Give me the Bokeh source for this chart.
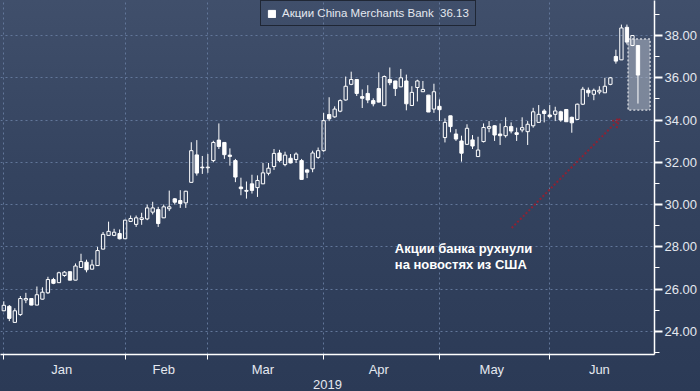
import numpy as np
from bokeh.plotting import figure
from bokeh.models import (Range1d, FixedTicker, NumeralTickFormatter, Label, Arrow,
                          OpenHead, ColumnDataSource, Legend, LegendItem)
from bokeh.core.properties import value
from bokeh.embed import file_html
from bokeh.resources import INLINE

# ---------------- data ----------------
opens = [24.97, 25.18, 24.42, 24.79, 25.48, 25.55, 25.24, 25.52, 25.82, 26.45,
         26.30, 26.64, 26.82, 26.42, 27.02, 27.27, 26.94, 27.11, 27.89, 28.54,
         28.54, 28.63, 28.38, 29.20, 29.06, 29.29, 29.32, 29.64, 29.76, 29.37,
         29.80, 30.27, 30.19, 30.08, 31.05, 32.35, 31.77, 31.74, 32.08, 33.05,
         32.94, 32.34, 32.08, 30.83, 30.67, 30.98, 30.80, 30.98, 31.48, 31.80,
         32.44, 31.89, 32.19, 32.13, 32.08, 31.64, 31.69, 32.23, 32.55, 34.26,
         34.15, 34.42, 34.95, 35.69, 35.92, 35.11, 35.26, 34.92, 35.49, 34.68,
         35.92, 35.85, 35.57, 35.85, 34.69, 35.54, 35.34, 35.18, 34.52, 34.65,
         33.17, 34.20, 33.34, 33.01, 32.85, 33.06, 32.27, 32.98, 33.61, 33.73,
         33.34, 33.26, 33.69, 33.40, 33.53, 33.45, 33.73, 33.89, 34.43, 34.24,
         34.27, 34.39, 34.50, 34.13, 34.03, 34.75, 35.41, 35.22, 35.33, 35.29,
         35.69, 37.01, 36.85, 38.39, 37.53, 37.53]
highs = [25.42, 25.24, 25.09, 25.67, 25.82, 25.56, 26.12, 26.08, 26.58, 26.53,
         26.82, 26.85, 26.83, 27.21, 27.67, 27.39, 27.39, 28.00, 28.70, 29.19,
         28.85, 28.82, 29.28, 29.48, 29.48, 29.61, 30.00, 30.13, 29.89, 30.00,
         30.66, 30.31, 30.68, 30.65, 32.95, 33.05, 32.30, 32.39, 33.02, 33.84,
         32.95, 32.66, 32.16, 31.27, 31.09, 31.41, 31.38, 31.97, 31.97, 32.63,
         32.59, 32.50, 32.39, 32.47, 32.16, 31.69, 32.55, 32.70, 34.34, 35.08,
         34.65, 34.98, 36.06, 36.29, 35.93, 35.45, 35.65, 35.03, 36.26, 36.11,
         36.49, 35.86, 36.42, 36.15, 35.60, 35.91, 35.85, 35.19, 35.72, 34.98,
         34.08, 34.21, 33.57, 33.26, 33.80, 33.29, 33.21, 33.84, 33.95, 33.76,
         33.84, 34.13, 33.89, 33.64, 34.13, 33.95, 34.58, 34.71, 34.52, 34.71,
         34.63, 34.44, 34.51, 34.16, 34.78, 35.57, 35.54, 35.49, 35.60, 36.00,
         36.04, 37.33, 38.52, 38.52, 38.02, 37.55]
lows = [24.95, 24.48, 24.42, 24.73, 25.33, 25.23, 25.23, 25.50, 25.77, 26.23,
        26.29, 26.58, 26.41, 26.41, 27.00, 26.79, 26.93, 27.10, 27.88, 28.52,
        28.50, 28.35, 28.37, 29.17, 28.94, 29.04, 29.26, 29.53, 28.94, 29.36,
        29.69, 30.00, 29.84, 29.84, 31.04, 31.37, 31.45, 31.50, 32.00, 32.63,
        32.16, 31.84, 31.06, 30.44, 30.28, 30.52, 30.36, 30.97, 31.38, 31.64,
        32.00, 31.81, 31.95, 31.97, 31.18, 31.25, 31.53, 32.16, 32.50, 33.95,
        34.11, 34.37, 34.92, 35.65, 35.14, 34.57, 34.80, 34.65, 34.83, 34.66,
        35.65, 35.14, 35.56, 34.46, 34.68, 34.88, 35.33, 34.38, 34.34, 33.95,
        32.94, 33.42, 33.01, 32.03, 32.82, 32.63, 32.26, 32.94, 33.42, 33.01,
        32.82, 33.17, 33.37, 33.01, 33.42, 32.82, 33.64, 33.88, 33.89, 34.08,
        33.95, 33.92, 33.92, 33.40, 34.00, 34.71, 35.10, 34.94, 35.22, 35.28,
        35.65, 36.67, 36.84, 37.58, 37.50, 34.78]
closes = [25.23, 24.61, 24.97, 25.55, 25.55, 25.24, 25.73, 25.85, 26.45, 26.27,
          26.77, 26.80, 26.42, 27.09, 27.30, 26.91, 27.14, 27.82, 28.59, 28.73,
          28.69, 28.38, 29.26, 29.34, 29.37, 29.37, 29.84, 29.84, 29.10, 29.89,
          29.89, 30.11, 30.05, 30.63, 32.55, 31.49, 31.74, 31.77, 32.94, 32.75,
          32.36, 32.28, 31.30, 30.75, 30.63, 30.67, 31.14, 31.50, 31.72, 32.42,
          32.08, 32.34, 31.97, 32.39, 31.19, 31.53, 32.44, 32.55, 33.97, 34.06,
          34.52, 34.92, 35.60, 35.92, 35.26, 35.03, 34.95, 34.77, 34.85, 36.06,
          35.77, 35.49, 36.00, 34.77, 35.31, 35.85, 35.45, 34.38, 35.34, 34.49,
          33.89, 33.69, 33.10, 32.43, 33.61, 32.77, 32.58, 33.65, 33.69, 33.29,
          33.26, 33.69, 33.48, 33.32, 33.64, 33.80, 34.39, 34.27, 34.31, 34.16,
          34.43, 34.00, 33.92, 33.87, 34.75, 35.46, 35.29, 35.41, 35.41, 35.60,
          36.00, 36.79, 38.36, 37.69, 38.00, 36.13]

month_names = ["Jan", "Feb", "Mar", "Apr", "May", "Jun"]
month_starts = [0, 22, 37, 58, 79, 99]      # trading-day index of first session
month_ends = [22, 37, 58, 79, 99, 118]
year_label = "2019"
y_ticks = [24, 26, 28, 30, 32, 34, 36, 38]
y_minor_ticks = [23, 25, 27, 29, 31, 33, 35, 37, 39]
series_name = "Акции China Merchants Bank"
last_price = 36.13
note_lines = ["Акции банка рухнули", "на новостях из США"]
note_x = [70.9, 70.9]
note_y = [27.92, 27.17]
arrow_from = [92.1, 28.89]
arrow_to = [111.7, 34.07]
highlight_x = [113.2, 117.2]
highlight_y = [34.47, 37.84]

# ---------------- derived ----------------
o = np.array(opens); h = np.array(highs); l = np.array(lows); c = np.array(closes)
idx = np.arange(len(o))
body_top = np.maximum(o, c)
body_bot = np.minimum(o, c)
body_bot = np.where(body_top - body_bot < 0.03, body_top - 0.03, body_bot)
up = c >= o

FONT = "Liberation Sans"
TXT = "#e4e8ef"
GRID = "#62779a"

p = figure(width=700, height=391, output_backend="svg", toolbar_location=None,
           x_range=Range1d(-0.6, 118.0), y_range=Range1d(22.90, 39.66),
           y_axis_location="right", min_border_left=0, min_border_top=0,
           min_border_right=45, min_border_bottom=34)
p.styles = {"background-image": "linear-gradient(to bottom, #404f6b 0%, #34435f 45%, #2b3a56 100%)"}
p.background_fill_alpha = 0
p.border_fill_alpha = 0
p.outline_line_color = None

# grids
p.xgrid.ticker = FixedTicker(ticks=month_starts)
p.ygrid.ticker = FixedTicker(ticks=y_ticks)
for g in (p.xgrid, p.ygrid):
    g.grid_line_color = GRID
    g.grid_line_dash = "2 3"
    g.grid_line_width = 1

# x axis: labels mid-month, tick marks at month starts
mids = [(a + b) / 2 - 0.5 for a, b in zip(month_starts, month_ends)]
xax = p.xaxis[0]
xax.ticker = FixedTicker(ticks=mids, minor_ticks=month_starts)
xax.major_label_overrides = {m: n for m, n in zip(mids, month_names)}
xax.major_tick_line_color = None
xax.major_tick_out = 0
xax.major_tick_in = 0
xax.minor_tick_out = 5
xax.minor_tick_in = 0
xax.minor_tick_line_color = "white"
xax.axis_line_color = "white"
xax.axis_line_width = 1.5
xax.major_label_standoff = 2
xax.major_label_text_font = FONT
xax.major_label_text_font_size = "13px"
xax.major_label_text_color = TXT
xax.axis_label = year_label
xax.axis_label_standoff = 0
xax.axis_label_text_font = FONT
xax.axis_label_text_font_size = "13px"
xax.axis_label_text_font_style = "normal"
xax.axis_label_text_color = TXT

# y axis on the right
yax = p.yaxis[0]
yax.ticker = FixedTicker(ticks=y_ticks, minor_ticks=y_minor_ticks)
yax.formatter = NumeralTickFormatter(format="0.00")
yax.axis_line_color = "white"
yax.axis_line_width = 1.5
yax.major_tick_out = 8
yax.major_tick_in = 0
yax.major_tick_line_width = 2
yax.major_tick_line_color = "white"
yax.minor_tick_out = 5
yax.minor_tick_in = 0
yax.minor_tick_line_color = "white"
yax.major_label_standoff = 2
yax.major_label_text_font = FONT
yax.major_label_text_font_size = "13px"
yax.major_label_text_color = TXT

# highlight box around the last sessions
p.quad(left=[highlight_x[0]], right=[highlight_x[1]], bottom=[highlight_y[0]], top=[highlight_y[1]],
       fill_color="#b3bac6", fill_alpha=0.55, line_color="white", line_dash="2 2", line_width=1)

# candles
p.segment(x0=idx, y0=body_top, x1=idx, y1=h, line_color="white", line_width=1)
p.segment(x0=idx, y0=l, x1=idx, y1=body_bot, line_color="white", line_width=1)
p.vbar(x=idx[up], top=body_top[up], bottom=body_bot[up], width=0.6,
       fill_alpha=0, line_color="white", line_width=1)
down_r = p.vbar(x=idx[~up], top=body_top[~up], bottom=body_bot[~up], width=0.6,
                fill_color="white", line_color="white", line_width=1)

# annotation text + arrow
src = ColumnDataSource(dict(x=note_x, y=note_y, t=note_lines))
p.text(x="x", y="y", text="t", source=src, text_font=value(FONT), text_font_style="bold",
       text_font_size="13px", text_color="white", text_baseline="middle", text_align="left")
p.add_layout(Arrow(x_start=arrow_from[0], y_start=arrow_from[1], x_end=arrow_to[0], y_end=arrow_to[1],
                   line_color="#8e2233", line_width=2, line_dash="2 2",
                   end=OpenHead(size=9, line_color="#8e2233", line_width=2, line_dash="2 2")))

# last price label on the axis
p.add_layout(Label(x=662, x_units="screen", y=last_price, y_units="data", text=f"{last_price:.2f}",
                   text_baseline="middle", text_align="left", text_font=FONT, text_font_size="13px",
                   text_color="black", background_fill_color="#f6f1ec", border_line_color="black",
                   padding=2))

# legend
leg = Legend(items=[LegendItem(label=f"{series_name}  {last_price:.2f}", renderers=[down_r])],
             location=(260, 328), orientation="horizontal",
             label_text_font=FONT, label_text_font_size="11.5px", label_text_color=TXT,
             glyph_width=9, glyph_height=9, label_standoff=6, padding=6, margin=0,
             border_line_color="black", border_line_width=1.5,
             background_fill_alpha=0)
p.add_layout(leg)

open("out.html", "w").write(file_html(p, INLINE))
